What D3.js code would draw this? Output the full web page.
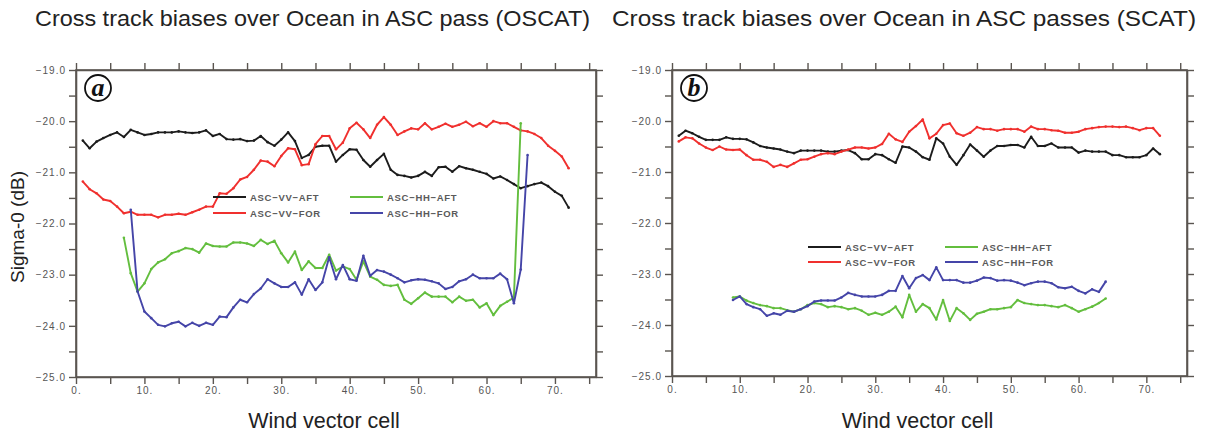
<!DOCTYPE html>
<html>
<head>
<meta charset="utf-8">
<script src="https://cdn.jsdelivr.net/npm/d3@7"></script>
<style>
  body { margin: 0; background: #fff; }
  svg { display: block; }
</style>
</head>
<body>
<svg id="chart" width="1206" height="439"></svg>
<script>
// ---- data ----
const xTickLabels = [0, 10, 20, 30, 40, 50, 60, 70];
const yTickLabels = [-25, -24, -23, -22, -21, -20, -19];

// panel a (OSCAT), first cell of each series
const aVvAftStart = 1, aVvForStart = 1, aHhAftStart = 7, aHhForStart = 8;
const aVvAft = [-20.38, -20.53, -20.40, -20.33, -20.27, -20.22, -20.31, -20.17, -20.22, -20.27,
  -20.25, -20.22, -20.22, -20.22, -20.20, -20.22, -20.23, -20.22, -20.18, -20.29,
  -20.25, -20.35, -20.36, -20.35, -20.39, -20.38, -20.29, -20.41, -20.48, -20.36,
  -20.22, -20.39, -20.72, -20.66, -20.50, -20.48, -20.48, -20.79, -20.66, -20.55,
  -20.56, -20.76, -20.89, -20.76, -20.64, -20.95, -21.05, -21.07, -21.10, -21.07,
  -20.99, -21.07, -20.90, -20.89, -20.99, -20.88, -20.92, -20.95, -20.99, -21.03,
  -21.12, -21.08, -21.15, -21.23, -21.31, -21.27, -21.23, -21.20, -21.27, -21.38,
  -21.46, -21.69];
const aVvFor = [-21.18, -21.33, -21.41, -21.53, -21.56, -21.67, -21.80, -21.77, -21.83, -21.83,
  -21.83, -21.88, -21.83, -21.83, -21.81, -21.83, -21.78, -21.73, -21.67, -21.67,
  -21.41, -21.42, -21.31, -21.14, -21.09, -20.95, -20.77, -20.79, -20.88, -20.68,
  -20.53, -20.55, -20.86, -20.84, -20.45, -20.29, -20.29, -20.55, -20.42, -20.14,
  -20.03, -20.16, -20.33, -20.07, -19.92, -20.07, -20.27, -20.20, -20.14, -20.16,
  -20.04, -20.16, -20.11, -20.05, -20.11, -20.07, -20.01, -20.10, -20.04, -20.11,
  -20.00, -20.04, -20.04, -20.11, -20.18, -20.20, -20.25, -20.33, -20.48, -20.58,
  -20.69, -20.92];
const aHhAft = [-22.28, -22.97, -23.33, -23.17, -22.89, -22.76, -22.70, -22.58, -22.54, -22.48,
  -22.50, -22.57, -22.39, -22.44, -22.45, -22.45, -22.37, -22.37, -22.39, -22.44,
  -22.32, -22.40, -22.34, -22.58, -22.76, -22.55, -22.91, -22.74, -22.87, -22.87,
  -22.61, -22.92, -22.84, -22.89, -23.10, -22.74, -23.04, -23.10, -23.20, -23.22,
  -23.20, -23.49, -23.57, -23.46, -23.35, -23.43, -23.43, -23.43, -23.54, -23.43,
  -23.51, -23.49, -23.64, -23.56, -23.79, -23.61, -23.53, -23.45, -20.04];
const aHhFor = [-21.73, -23.33, -23.72, -23.85, -23.98, -24.01, -23.95, -23.92, -24.01, -23.94,
  -24.00, -23.94, -23.98, -23.82, -23.83, -23.64, -23.49, -23.54, -23.38, -23.27,
  -23.09, -23.17, -23.24, -23.24, -23.15, -23.39, -23.09, -23.30, -23.15, -22.66,
  -23.09, -22.81, -23.09, -23.12, -22.63, -23.02, -22.91, -22.94, -23.00, -23.07,
  -23.15, -23.11, -23.09, -23.10, -23.13, -23.17, -23.28, -23.24, -23.13, -23.09,
  -23.00, -23.07, -23.07, -23.07, -22.98, -23.09, -23.56, -22.90, -20.66];

// panel b (SCAT)
const bVvAftStart = 1, bVvForStart = 1, bHhAftStart = 9, bHhForStart = 9;
const bVvAft = [-20.29, -20.19, -20.24, -20.31, -20.37, -20.37, -20.37, -20.32, -20.35, -20.35,
  -20.36, -20.42, -20.49, -20.52, -20.54, -20.56, -20.60, -20.63, -20.58, -20.58,
  -20.58, -20.58, -20.60, -20.60, -20.58, -20.57, -20.63, -20.75, -20.75, -20.65,
  -20.67, -20.75, -20.82, -20.50, -20.52, -20.60, -20.71, -20.76, -20.34, -20.44,
  -20.70, -20.86, -20.67, -20.46, -20.58, -20.70, -20.58, -20.49, -20.49, -20.47,
  -20.47, -20.52, -20.31, -20.49, -20.49, -20.44, -20.52, -20.52, -20.52, -20.62,
  -20.58, -20.60, -20.60, -20.60, -20.67, -20.67, -20.71, -20.71, -20.71, -20.67,
  -20.54, -20.65];
const bVvFor = [-20.40, -20.32, -20.34, -20.44, -20.52, -20.57, -20.50, -20.56, -20.57, -20.56,
  -20.67, -20.76, -20.76, -20.80, -20.90, -20.86, -20.90, -20.83, -20.76, -20.75,
  -20.70, -20.65, -20.63, -20.65, -20.60, -20.56, -20.52, -20.52, -20.54, -20.52,
  -20.45, -20.25, -20.36, -20.41, -20.21, -20.10, -19.97, -20.34, -20.25, -20.08,
  -20.05, -20.24, -20.29, -20.23, -20.12, -20.16, -20.16, -20.19, -20.16, -20.16,
  -20.16, -20.21, -20.11, -20.16, -20.16, -20.18, -20.19, -20.23, -20.23, -20.21,
  -20.16, -20.14, -20.12, -20.11, -20.11, -20.12, -20.11, -20.14, -20.18, -20.14,
  -20.14, -20.29];
const bHhAft = [-23.46, -23.44, -23.52, -23.57, -23.61, -23.63, -23.67, -23.67, -23.71, -23.74,
  -23.69, -23.61, -23.57, -23.59, -23.65, -23.63, -23.65, -23.69, -23.67, -23.72,
  -23.80, -23.76, -23.80, -23.74, -23.64, -23.85, -23.41, -23.74, -23.59, -23.67,
  -23.89, -23.51, -23.92, -23.67, -23.77, -23.90, -23.78, -23.74, -23.69, -23.69,
  -23.67, -23.65, -23.51, -23.57, -23.59, -23.61, -23.61, -23.63, -23.65, -23.61,
  -23.67, -23.74, -23.69, -23.64, -23.57, -23.48];
const bHhFor = [-23.51, -23.44, -23.59, -23.65, -23.69, -23.82, -23.77, -23.80, -23.72, -23.74,
  -23.69, -23.63, -23.54, -23.52, -23.52, -23.52, -23.46, -23.37, -23.41, -23.44,
  -23.44, -23.44, -23.41, -23.33, -23.33, -23.04, -23.28, -23.08, -23.02, -23.12,
  -22.87, -23.12, -23.12, -23.12, -23.17, -23.17, -23.13, -23.07, -23.08, -23.13,
  -23.12, -23.13, -23.17, -23.22, -23.18, -23.15, -23.15, -23.18, -23.26, -23.28,
  -23.25, -23.33, -23.38, -23.30, -23.35, -23.15];

const seriesNames = ["ASC\u2212VV\u2212AFT", "ASC\u2212VV\u2212FOR", "ASC\u2212HH\u2212AFT", "ASC\u2212HH\u2212FOR"];
const seriesColors = ["#1c1c1c", "#f0302e", "#63be3e", "#4545a8"];

const svg = d3.select("#chart");
const axisColor = "#5a5550";

// turn a values array + first cell into points
function toPoints(values, start) {
  return values.map((v, i) => ({ cell: start + i, value: v }));
}

function drawPanel(opts) {
  const x = d3.scaleLinear().domain([0, 76]).range([opts.left, opts.right]);
  const y = d3.scaleLinear().domain([-25, -19]).range([opts.bottom, opts.top]);

  const g = svg.append("g");

  // plot background + frame
  g.append("rect")
    .attr("x", opts.left).attr("y", opts.top)
    .attr("width", opts.right - opts.left).attr("height", opts.bottom - opts.top)
    .attr("fill", "#fff")
    .attr("stroke", axisColor).attr("stroke-width", 1.6);

  const yTicks = d3.range(-25, -18.9, 0.5);
  const xTicks = d3.range(0, 76, 5);
  const fmtY = d3.format(".1f");

  // left axis with labels on integer values
  g.append("g")
    .attr("transform", `translate(${opts.left},0)`)
    .call(d3.axisLeft(y).tickValues(yTicks).tickSize(7).tickSizeOuter(0)
      .tickFormat(d => yTickLabels.includes(d) ? fmtY(d) : ""))
    .call(styleAxis);

  // right axis, ticks only
  g.append("g")
    .attr("transform", `translate(${opts.right},0)`)
    .call(d3.axisRight(y).tickValues(yTicks).tickSize(7).tickSizeOuter(0).tickFormat(""))
    .call(styleAxis);

  // bottom axis "0." "10." ...
  g.append("g")
    .attr("transform", `translate(0,${opts.bottom})`)
    .call(d3.axisBottom(x).tickValues(xTicks).tickSize(7).tickSizeOuter(0)
      .tickFormat(d => xTickLabels.includes(d) ? d + "." : ""))
    .call(styleAxis);

  // top axis, ticks only
  g.append("g")
    .attr("transform", `translate(0,${opts.top})`)
    .call(d3.axisTop(x).tickValues(xTicks).tickSize(7).tickSizeOuter(0).tickFormat(""))
    .call(styleAxis);

  // series lines
  const line = d3.line().x(d => x(d.cell)).y(d => y(d.value));
  opts.series.forEach((s, i) => {
    const pts = toPoints(s.values, s.start);
    g.append("path")
      .datum(pts)
      .attr("fill", "none")
      .attr("stroke", seriesColors[i])
      .attr("stroke-width", 1.9)
      .attr("stroke-linejoin", "round")
      .attr("d", line);
    g.selectAll(null)
      .data(pts)
      .enter().append("circle")
      .attr("cx", d => x(d.cell))
      .attr("cy", d => y(d.value))
      .attr("r", 1.3)
      .attr("fill", seriesColors[i]);
  });

  // legend, two columns
  seriesNames.forEach((name, i) => {
    const lx = opts.legendX + (i >= 2 ? opts.legendGap : 0);
    const ly = opts.legendY + (i % 2) * opts.legendRow;
    g.append("line")
      .attr("x1", lx).attr("x2", lx + 33)
      .attr("y1", ly).attr("y2", ly)
      .attr("stroke", seriesColors[i]).attr("stroke-width", 2);
    g.append("text")
      .attr("x", lx + 37).attr("y", ly + 3.5)
      .style("font-family", "Liberation Sans, Arial, sans-serif")
      .style("font-size", "9.5px")
      .style("font-weight", "bold")
      .style("letter-spacing", "0.7px")
      .style("fill", "#5a5a5a")
      .text(name);
  });

  // panel letter in circle
  g.append("circle")
    .attr("cx", opts.left + 22).attr("cy", opts.top + 18).attr("r", 13)
    .attr("fill", "#fff").attr("stroke", "#111").attr("stroke-width", 1.8);
  g.append("text")
    .attr("x", opts.left + 22).attr("y", opts.top + 26)
    .attr("text-anchor", "middle")
    .style("font-family", "Liberation Serif, Times New Roman, serif")
    .style("font-style", "italic").style("font-weight", "bold")
    .style("font-size", "26px")
    .style("fill", "#111")
    .text(opts.letter);

  // x axis title
  g.append("text")
    .attr("x", (opts.left + opts.right) / 2 - 12)
    .attr("y", 428)
    .attr("text-anchor", "middle")
    .style("font-family", "Liberation Sans, Arial, sans-serif")
    .style("font-size", "21.5px")
    .style("fill", "#222")
    .text("Wind vector cell");

  // panel title, stretched to the width it has in the figure
  g.append("text")
    .attr("x", opts.titleX)
    .attr("y", 26)
    .attr("textLength", opts.titleWidth)
    .attr("lengthAdjust", "spacingAndGlyphs")
    .style("font-family", "Liberation Sans, Arial, sans-serif")
    .style("font-size", "22px")
    .style("fill", "#222")
    .text(opts.title);
}

function styleAxis(sel) {
  sel.select(".domain").attr("stroke", axisColor).attr("stroke-width", 1.6);
  sel.selectAll(".tick line").attr("stroke", axisColor).attr("stroke-width", 1.4);
  sel.selectAll(".tick text")
    .style("font-family", "Liberation Sans, Arial, sans-serif")
    .style("font-size", "10px")
    .style("letter-spacing", "1px")
    .style("fill", "#555");
}

drawPanel({
  left: 76, right: 596, top: 70, bottom: 377,
  letter: "a",
  title: "Cross track biases over Ocean in ASC pass (OSCAT)",
  titleX: 35, titleWidth: 555,
  legendX: 213, legendGap: 137, legendY: 197, legendRow: 16,
  series: [
    { values: aVvAft, start: aVvAftStart },
    { values: aVvFor, start: aVvForStart },
    { values: aHhAft, start: aHhAftStart },
    { values: aHhFor, start: aHhForStart }
  ]
});

drawPanel({
  left: 672, right: 1187, top: 70, bottom: 376,
  letter: "b",
  title: "Cross track biases over Ocean in ASC passes (SCAT)",
  titleX: 612, titleWidth: 584,
  legendX: 808, legendGap: 137, legendY: 247, legendRow: 15,
  series: [
    { values: bVvAft, start: bVvAftStart },
    { values: bVvFor, start: bVvForStart },
    { values: bHhAft, start: bHhAftStart },
    { values: bHhFor, start: bHhForStart }
  ]
});

// shared y axis title
svg.append("text")
  .attr("transform", "translate(24,227) rotate(-90)")
  .attr("text-anchor", "middle")
  .style("font-family", "Liberation Sans, Arial, sans-serif")
  .style("font-size", "19px")
  .style("fill", "#222")
  .text("Sigma-0 (dB)");
</script>
</body>
</html>
